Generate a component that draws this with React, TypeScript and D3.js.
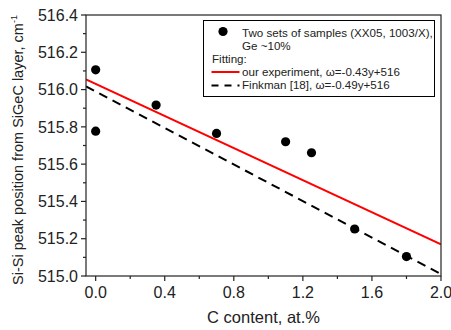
import React from "react";
import * as d3 from "d3";

// C content (at.%) and Si-Si peak positions (cm^-1)
const cContent = [0.0, 0.0, 0.35, 0.7, 1.1, 1.25, 1.5, 1.8];
const peakPos = [516.106, 515.777, 515.917, 515.765, 515.72, 515.661, 515.252, 515.104];

// Linear fits: omega = slope * y + intercept
const fitOurs = { slope: -0.43, intercept: 516.03 };
const fitFinkman = { slope: -0.49, intercept: 515.99 };

const xMajorTicks = [0.0, 0.4, 0.8, 1.2, 1.6, 2.0];
const xMinorTicks = [0.2, 0.6, 1.0, 1.4, 1.8];
const yMajorTicks = [515.0, 515.2, 515.4, 515.6, 515.8, 516.0, 516.2, 516.4];
const yMinorTicks = [515.1, 515.3, 515.5, 515.7, 515.9, 516.1, 516.3];

const legendLines = [
  "Two sets of samples (XX05, 1003/X),",
  "Ge ~10%",
  "Fitting:",
  "our experiment, \u03c9=-0.43y+516",
  "Finkman [18], \u03c9=-0.49y+516",
];

const W = 451;
const H = 330;
const FONT = "'Liberation Sans', Arial, sans-serif";

export default function App() {
  const left = 86, right = 441, top = 15, bottom = 276;
  const x = d3.scaleLinear().domain([-0.056, 2.0]).range([left, right]);
  const y = d3.scaleLinear().domain([515.0, 516.4]).range([bottom, top]);

  const fitLine = (f: { slope: number; intercept: number }) => {
    const xs = [x.domain()[0], x.domain()[1]];
    return d3.line<number>()
      .x((v) => x(v))
      .y((v) => y(f.slope * v + f.intercept))(xs) as string;
  };

  const fmt = d3.format(".1f");
  const textColor = "#222";
  const axisColor = "#222";

  return (
    <svg width={W} height={H} style={{ position: "absolute", left: 0, top: 0, background: "#fff" }}>
      <defs>
        <clipPath id="plotClip">
          <rect x={left} y={top} width={right - left} height={bottom - top} />
        </clipPath>
      </defs>

      {/* fit lines */}
      <g clipPath="url(#plotClip)">
        <path d={fitLine(fitFinkman)} stroke="#000" strokeWidth={2} strokeDasharray="9,6" fill="none" />
        <path d={fitLine(fitOurs)} stroke="#ff0000" strokeWidth={2} fill="none" />
      </g>

      {/* data points */}
      {cContent.map((c, i) => (
        <circle key={i} cx={x(c)} cy={y(peakPos[i])} r={4.6} fill="#000" />
      ))}

      {/* frame */}
      <rect x={left} y={top} width={right - left} height={bottom - top} fill="none" stroke={axisColor} strokeWidth={1.2} />

      {/* x ticks */}
      {xMajorTicks.map((t) => (
        <g key={"xm" + t}>
          <line x1={x(t)} x2={x(t)} y1={bottom} y2={bottom + 5} stroke={axisColor} strokeWidth={1.2} />
          <text x={x(t)} y={298} textAnchor="middle" fontFamily={FONT} fontSize={16} fill={textColor}>
            {fmt(t)}
          </text>
        </g>
      ))}
      {xMinorTicks.map((t) => (
        <line key={"xn" + t} x1={x(t)} x2={x(t)} y1={bottom} y2={bottom + 3} stroke={axisColor} strokeWidth={1.2} />
      ))}

      {/* y ticks */}
      {yMajorTicks.map((t) => (
        <g key={"ym" + t}>
          <line x1={left - 5} x2={left} y1={y(t)} y2={y(t)} stroke={axisColor} strokeWidth={1.2} />
          <text x={78} y={y(t) + 5.7} textAnchor="end" fontFamily={FONT} fontSize={16} fill={textColor}>
            {fmt(t)}
          </text>
        </g>
      ))}
      {yMinorTicks.map((t) => (
        <line key={"yn" + t} x1={left - 3} x2={left} y1={y(t)} y2={y(t)} stroke={axisColor} strokeWidth={1.2} />
      ))}

      {/* axis titles */}
      <text x={(left + right) / 2} y={323} textAnchor="middle" fontFamily={FONT} fontSize={16.5} fill={textColor}>
        C content, at.%
      </text>
      <text transform={`translate(23,285) rotate(-90)`} fontFamily={FONT} fontSize={14.5} fill={textColor}>
        Si-Si peak position from SiGeC layer, cm
        <tspan fontSize={9} dy={-6}>-1</tspan>
      </text>

      {/* legend */}
      <g fontFamily={FONT} fontSize={11.6} fill={textColor}>
        <rect x={203.5} y={20.5} width={231} height={76} fill="#fff" stroke="#000" strokeWidth={1} />
        <circle cx={223} cy={31.5} r={4.6} fill="#000" />
        <text x={242} y={36.5}>{legendLines[0]}</text>
        <text x={242} y={49.5}>{legendLines[1]}</text>
        <text x={212} y={62.5}>{legendLines[2]}</text>
        <line x1={211.5} x2={239.5} y1={72} y2={72} stroke="#ff0000" strokeWidth={2} />
        <text x={242} y={75.5}>{legendLines[3]}</text>
        <line x1={211.5} x2={239.5} y1={85.5} y2={85.5} stroke="#000" strokeWidth={2} strokeDasharray="7,6" />
        <text x={242} y={88.5}>{legendLines[4]}</text>
      </g>
    </svg>
  );
}
